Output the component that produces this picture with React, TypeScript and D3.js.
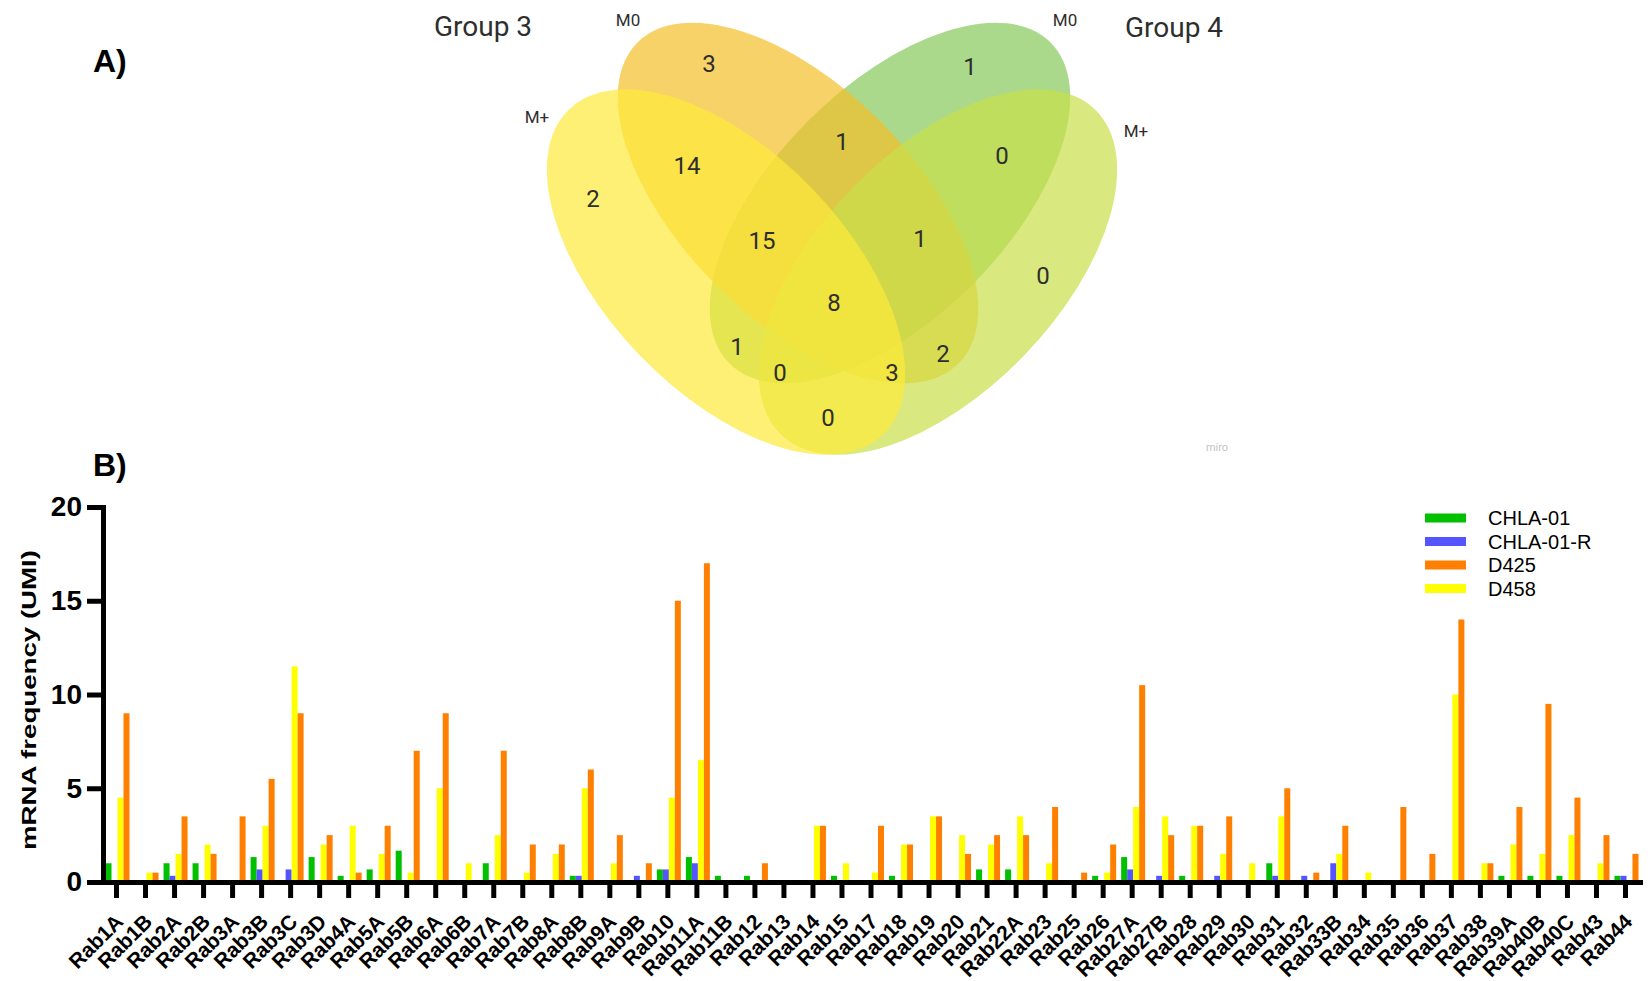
import React, { useEffect, useRef } from 'react'
import * as d3 from 'd3'

const rabs = ['Rab1A', 'Rab1B', 'Rab2A', 'Rab2B', 'Rab3A', 'Rab3B', 'Rab3C', 'Rab3D', 'Rab4A', 'Rab5A',
  'Rab5B', 'Rab6A', 'Rab6B', 'Rab7A', 'Rab7B', 'Rab8A', 'Rab8B', 'Rab9A', 'Rab9B', 'Rab10',
  'Rab11A', 'Rab11B', 'Rab12', 'Rab13', 'Rab14', 'Rab15', 'Rab17', 'Rab18', 'Rab19', 'Rab20',
  'Rab21', 'Rab22A', 'Rab23', 'Rab25', 'Rab26', 'Rab27A', 'Rab27B', 'Rab28', 'Rab29', 'Rab30',
  'Rab31', 'Rab32', 'Rab33B', 'Rab34', 'Rab35', 'Rab36', 'Rab37', 'Rab38', 'Rab39A', 'Rab40B',
  'Rab40C', 'Rab43', 'Rab44']

const chla01 = [1, 0, 1, 1, 0, 1.33, 0, 1.33, 0.33, 0.67,
  1.67, 0, 0, 1, 0, 0, 0.33, 0, 0, 0.67,
  1.33, 0.33, 0.33, 0, 0, 0.33, 0, 0.33, 0, 0,
  0.67, 0.67, 0, 0, 0.33, 1.33, 0, 0.33, 0, 0,
  1, 0, 0, 0, 0, 0, 0, 0, 0.33, 0.33,
  0.33, 0, 0.33]
const chla01R = [0, 0, 0.33, 0, 0, 0.67, 0.67, 0, 0, 0,
  0, 0, 0, 0, 0, 0, 0.33, 0, 0.33, 0.67,
  1, 0, 0, 0, 0, 0, 0, 0, 0, 0,
  0, 0, 0, 0, 0, 0.67, 0.33, 0, 0.33, 0,
  0.33, 0.33, 1, 0, 0, 0, 0, 0, 0, 0,
  0, 0, 0.33]
const d425 = [9, 0.5, 3.5, 1.5, 3.5, 5.5, 9, 2.5, 0.5, 3,
  7, 9, 0, 7, 2, 2, 6, 2.5, 1, 15,
  17, 0, 1, 0, 3, 0, 3, 2, 3.5, 1.5,
  2.5, 2.5, 4, 0.5, 2, 10.5, 2.5, 3, 3.5, 0,
  5, 0.5, 3, 0, 4, 1.5, 14, 1, 4, 9.5,
  4.5, 2.5, 1.5]
const d458 = [4.5, 0.5, 1.5, 2, 0, 3, 11.5, 2, 3, 1.5,
  0.5, 5, 1, 2.5, 0.5, 1.5, 5, 1, 0, 4.5,
  6.5, 0, 0, 0, 3, 1, 0.5, 2, 3.5, 2.5,
  2, 3.5, 1, 0, 0.5, 4, 3.5, 3, 1.5, 1,
  3.5, 0, 1.5, 0.5, 0, 0, 10, 1, 2, 1.5,
  2.5, 1, 0]

const legendNames = ['CHLA-01', 'CHLA-01-R', 'D425', 'D458']
const barOrder = ['CHLA-01', 'CHLA-01-R', 'D458', 'D425']
const yTicks = [0, 5, 10, 15, 20]

// venn: sets and the count in each region
const vennSets = ['Group 3 M+', 'Group 3 M0', 'Group 4 M0', 'Group 4 M+']
const vennRegions = ['A', 'B', 'C', 'D', 'AB', 'BC', 'CD', 'ABC', 'BCD', 'ABCD', 'AC', 'BD', 'ACD', 'ABD', 'AD']
const vennCounts = [2, 3, 1, 0, 14, 1, 0, 15, 1, 8, 1, 2, 0, 3, 0]

const colors: Record<string, string> = {
  'CHLA-01': '#00c000',
  'CHLA-01-R': '#5555ff',
  'D425': '#ff8000',
  'D458': '#ffff00',
}
const seriesValues: Record<string, number[]> = {
  'CHLA-01': chla01,
  'CHLA-01-R': chla01R,
  'D425': d425,
  'D458': d458,
}

const arial = '"Liberation Sans", Arial, sans-serif'
const roboto = 'Roboto, "Noto Sans", sans-serif'

// ellipse layout, drawn in this order (C under B, D, A)
const ellipseLayout: Record<string, { cx: number, cy: number, rx: number, ry: number, rot: number, fill: string }> = {
  'Group 4 M0': { cx: 890, cy: 203, rx: 227, ry: 116, rot: -45, fill: '#88c95a' },
  'Group 3 M0': { cx: 798, cy: 203, rx: 227, ry: 116, rot: 45, fill: '#f4bf2a' },
  'Group 4 M+': { cx: 938, cy: 272, rx: 226, ry: 120, rot: -46, fill: '#c9e04a' },
  'Group 3 M+': { cx: 726, cy: 272, rx: 226, ry: 120, rot: 46, fill: '#fde93a' },
}
const drawOrder = ['Group 4 M0', 'Group 3 M0', 'Group 4 M+', 'Group 3 M+']

const regionPos: Record<string, [number, number]> = {
  A: [593, 198], B: [709, 63], C: [970, 66], D: [1043, 275],
  AB: [687, 165], BC: [842, 141], CD: [1002, 155], ABC: [762, 240],
  BCD: [920, 238], ABCD: [834, 302], AC: [737, 346], BD: [943, 353],
  ACD: [780, 372], ABD: [892, 372], AD: [828, 417],
}

function drawVenn(svg: d3.Selection<SVGSVGElement, unknown, null, undefined>) {
  const g = svg.append('g')
  drawOrder.forEach(name => {
    const e = ellipseLayout[name]
    g.append('ellipse')
      .attr('cx', e.cx).attr('cy', e.cy)
      .attr('rx', e.rx).attr('ry', e.ry)
      .attr('transform', `rotate(${e.rot},${e.cx},${e.cy})`)
      .attr('fill', e.fill)
      .attr('fill-opacity', 0.7)
  })

  g.selectAll('text.count')
    .data(vennRegions)
    .enter().append('text')
    .attr('class', 'count')
    .attr('x', d => regionPos[d][0])
    .attr('y', d => regionPos[d][1])
    .attr('dy', '0.36em')
    .attr('text-anchor', 'middle')
    .attr('font-family', roboto)
    .attr('font-size', 24)
    .attr('fill', '#2e2e2e')
    .text((d, i) => vennCounts[i])

  const labels = [
    { t: 'Group 3', x: 483, y: 26, s: 28 },
    { t: 'Group 4', x: 1174, y: 27, s: 28 },
    { t: vennSets[1].split(' ')[2], x: 628, y: 20, s: 17 },
    { t: vennSets[2].split(' ')[2], x: 1065, y: 20, s: 17 },
    { t: vennSets[0].split(' ')[2], x: 537, y: 117, s: 17 },
    { t: vennSets[3].split(' ')[2], x: 1136, y: 131, s: 17 },
  ]
  g.selectAll('text.lbl')
    .data(labels)
    .enter().append('text')
    .attr('class', 'lbl')
    .attr('x', d => d.x).attr('y', d => d.y)
    .attr('dy', '0.36em')
    .attr('text-anchor', 'middle')
    .attr('font-family', roboto)
    .attr('font-size', d => d.s)
    .attr('fill', '#2e2e2e')
    .text(d => d.t)

  g.append('text')
    .attr('x', 1217).attr('y', 451)
    .attr('text-anchor', 'middle')
    .attr('font-family', roboto)
    .attr('font-size', 11)
    .attr('fill', '#c4c4c4')
    .text('miro')
}

function drawBars(svg: d3.Selection<SVGSVGElement, unknown, null, undefined>) {
  const x = d3.scaleBand().domain(rabs).range([102, 1640])
  const inner = d3.scaleBand().domain(barOrder).range([-11, 13])
  const y = d3.scaleLinear().domain([0, 20]).range([882, 507])

  const bars = svg.append('g')
  barOrder.forEach(name => {
    const vals = seriesValues[name]
    bars.selectAll(null)
      .data(rabs)
      .enter().append('rect')
      .attr('x', d => (x(d) as number) + x.bandwidth() / 2 + (inner(name) as number))
      .attr('y', (d, i) => y(vals[i]))
      .attr('width', inner.bandwidth())
      .attr('height', (d, i) => y(0) - y(vals[i]))
      .attr('fill', colors[name])
  })

  const yAxis = svg.append('g')
    .attr('transform', 'translate(103,0)')
    .call(d3.axisLeft(y).tickValues(yTicks).tickSize(16).tickSizeOuter(0).tickPadding(5))
  yAxis.attr('font-family', arial).attr('font-size', 28).attr('font-weight', 'bold')
  yAxis.select('.domain').attr('stroke-width', 5).attr('stroke-linecap', 'square')
  yAxis.selectAll('.tick line').attr('stroke-width', 5)
  yAxis.selectAll('.tick text').attr('fill', '#000')

  const xAxis = svg.append('g')
    .attr('transform', 'translate(0,882)')
    .call(d3.axisBottom(x).tickSize(16).tickSizeOuter(0))
  xAxis.attr('font-family', arial).attr('font-size', 21).attr('font-weight', 'bold')
  xAxis.select('.domain').attr('stroke-width', 5).attr('stroke-linecap', 'square')
  xAxis.selectAll('.tick line').attr('stroke-width', 5)
  xAxis.selectAll('.tick text')
    .attr('x', 0).attr('y', 0).attr('dy', null)
    .attr('text-anchor', 'end')
    .attr('fill', '#000')
    .attr('transform', 'translate(8,41) rotate(-45)')

  svg.append('text')
    .attr('transform', 'translate(36,700) rotate(-90)')
    .attr('text-anchor', 'middle')
    .attr('font-family', arial)
    .attr('font-size', 21)
    .attr('font-weight', 'bold')
    .attr('textLength', 300)
    .attr('lengthAdjust', 'spacingAndGlyphs')
    .text('mRNA frequency (UMI)')

  const legend = svg.append('g').attr('transform', 'translate(1425,518)')
  legendNames.forEach((name, i) => {
    legend.append('rect')
      .attr('x', 0).attr('y', i * 23.5 - 4.5)
      .attr('width', 41).attr('height', 9)
      .attr('fill', colors[name])
    legend.append('text')
      .attr('x', 63).attr('y', i * 23.5)
      .attr('dy', '0.36em')
      .attr('font-family', arial)
      .attr('font-size', 20)
      .text(name)
  })
}

export default function App() {
  const ref = useRef<SVGSVGElement>(null)

  useEffect(() => {
    const svg = d3.select(ref.current as SVGSVGElement)
    svg.selectAll('*').remove()
    drawVenn(svg)
    drawBars(svg)

    svg.append('text').attr('x', 93).attr('y', 72)
      .attr('font-family', arial).attr('font-size', 32).attr('font-weight', 'bold')
      .text('A)')
    svg.append('text').attr('x', 93).attr('y', 476)
      .attr('font-family', arial).attr('font-size', 32).attr('font-weight', 'bold')
      .text('B)')
  }, [])

  return (
    <svg ref={ref} width={1651} height={981}
      style={{ position: 'absolute', left: 0, top: 0, background: '#fff' }} />
  )
}
